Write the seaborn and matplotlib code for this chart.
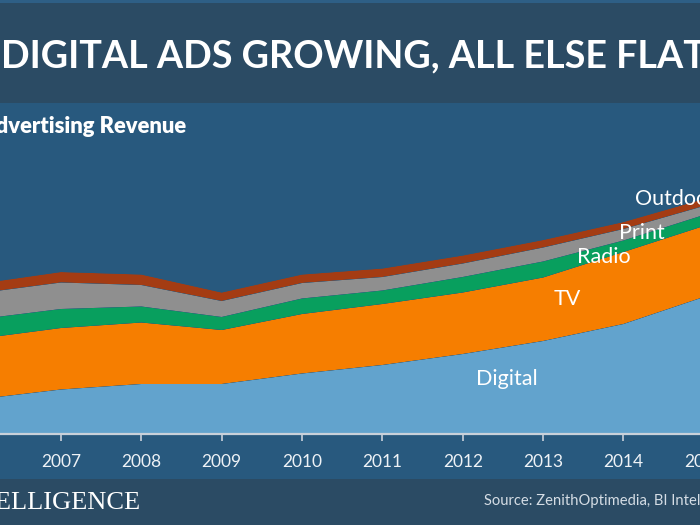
import numpy as np
import pandas as pd
import matplotlib
matplotlib.use("Agg")
import matplotlib.pyplot as plt
from matplotlib.patches import Rectangle
import seaborn as sns
import seaborn.objects as so

# ---- data (advertising revenue, arbitrary units) ----
years = [2006, 2007, 2008, 2009, 2010, 2011, 2012, 2013, 2014, 2015]
digital = [69, 88, 99, 99, 120, 137, 159, 185, 219, 273]
tv = [121, 123, 123, 108, 119, 122, 123, 127, 144, 142]
radio = [39, 38, 32, 26, 31, 27, 31, 32, 23, 22]
print_media = [52, 53, 43, 32, 31, 27, 27, 28, 23, 18]
outdoor = [19, 21, 21, 17, 17, 17, 16, 15, 14, 14]
channels = ["Digital", "TV", "Radio", "Print", "Outdoor"]
tick_labels = [str(y) for y in years]

title = "DIGITAL ADS GROWING, ALL ELSE FLAT"
subtitle = "Advertising Revenue"
source = "Source: ZenithOptimedia, BI Intelligence"
brand = "BI INTELLIGENCE"

# ---- colours ----
c_header = "#2B4B64"
c_bg = "#28597E"
c_strip = "#2E5F86"
palette = {"Digital": "#62A3CD", "TV": "#F67E00", "Radio": "#089F5E",
           "Print": "#8F8F8F", "Outdoor": "#A43C13"}

series = {"Digital": digital, "TV": tv, "Radio": radio,
          "Print": print_media, "Outdoor": outdoor}
df = pd.concat([pd.DataFrame({"year": years, "value": series[c], "channel": c})
                for c in channels], ignore_index=True)

W, H = 700, 525
fig = plt.figure(figsize=(7, 5.25), dpi=100, facecolor=c_bg)

# axes: 2006 at x=-19.4 px, 2015 at x=703.8 px ; baseline at y=433.5 px, top at y=102 px
x0, x1 = -19.4, 703.8
ytop, ybase = 102, 433.5
ax = fig.add_axes([x0 / W, 1 - ybase / H, (x1 - x0) / W, (ybase - ytop) / H])

(so.Plot(df, x="year", y="value", color="channel")
   .add(so.Area(alpha=1, edgewidth=0), so.Stack(), legend=False)
   .scale(color=so.Nominal(palette, order=channels))
   .on(ax)
   .plot())

ax.set_facecolor(c_bg)
ax.grid(False)
ax.set_xlim(2006, 2015)
ax.set_ylim(0, (ybase - ytop) * 2)
ax.set_xlabel("")
ax.set_ylabel("")
ax.set_yticks([])
ax.set_xticks(years)
ax.set_xticklabels(tick_labels)
for s in ["top", "left", "right"]:
    ax.spines[s].set_visible(False)
ax.spines["bottom"].set_visible(True)
ax.spines["bottom"].set_color("#C9D1DA")
ax.spines["bottom"].set_linewidth(1.6)
ax.spines["bottom"].set_zorder(5)
ax.tick_params(axis="x", direction="out", length=5, width=1.2, color="#C9D1DA",
               labelcolor="#EEF2F6", labelsize=12.5, pad=10)
for lbl in ax.get_xticklabels():
    lbl.set_fontfamily("Lato")
# the 2006 label lies wholly outside the visible picture
ax.get_xticklabels()[0].set_visible(False)

# ---- header & footer bands ----
fig.patches.append(Rectangle((0, 1 - 103 / H), 1, 103 / H, transform=fig.transFigure,
                             facecolor=c_header, edgecolor="none", zorder=0))
fig.patches.append(Rectangle((0, 1 - 3 / H), 1, 3 / H, transform=fig.transFigure,
                             facecolor=c_strip, edgecolor="none", zorder=0))
fig.patches.append(Rectangle((0, 0), 1, (H - 479) / H, transform=fig.transFigure,
                             facecolor=c_header, edgecolor="none", zorder=0))

def px(x, y):
    return x / W, 1 - y / H

fig.text(*px(1, 56), title, ha="left", va="center", fontsize=27.2,
         fontweight="bold", family="Lato", color="white")
fig.text(*px(186, 127), subtitle, ha="right", va="center", fontsize=15.8,
         fontweight="heavy", family="Lato", color="white")

# in-chart series labels
lab_kw = dict(ha="center", va="center", fontsize=15.5, family="Lato", color="white")
fig.text(*px(507, 379), "Digital", **lab_kw)
fig.text(*px(567, 299), "TV", **lab_kw)
fig.text(*px(604, 257), "Radio", **lab_kw)
fig.text(*px(642, 233), "Print", **lab_kw)
fig.text(*px(635, 199), "Outdoor", ha="left", va="center", fontsize=15.5,
         family="Lato", color="white")

# footer
fig.text(*px(140, 503), brand, ha="right", va="center", fontsize=19,
         family="Liberation Serif", color="white")
fig.text(*px(484, 501), source, ha="left", va="center", fontsize=10.6,
         family="Lato", color="#D5DDE5")

fig.savefig("out.png", dpi=100, facecolor=c_bg)
